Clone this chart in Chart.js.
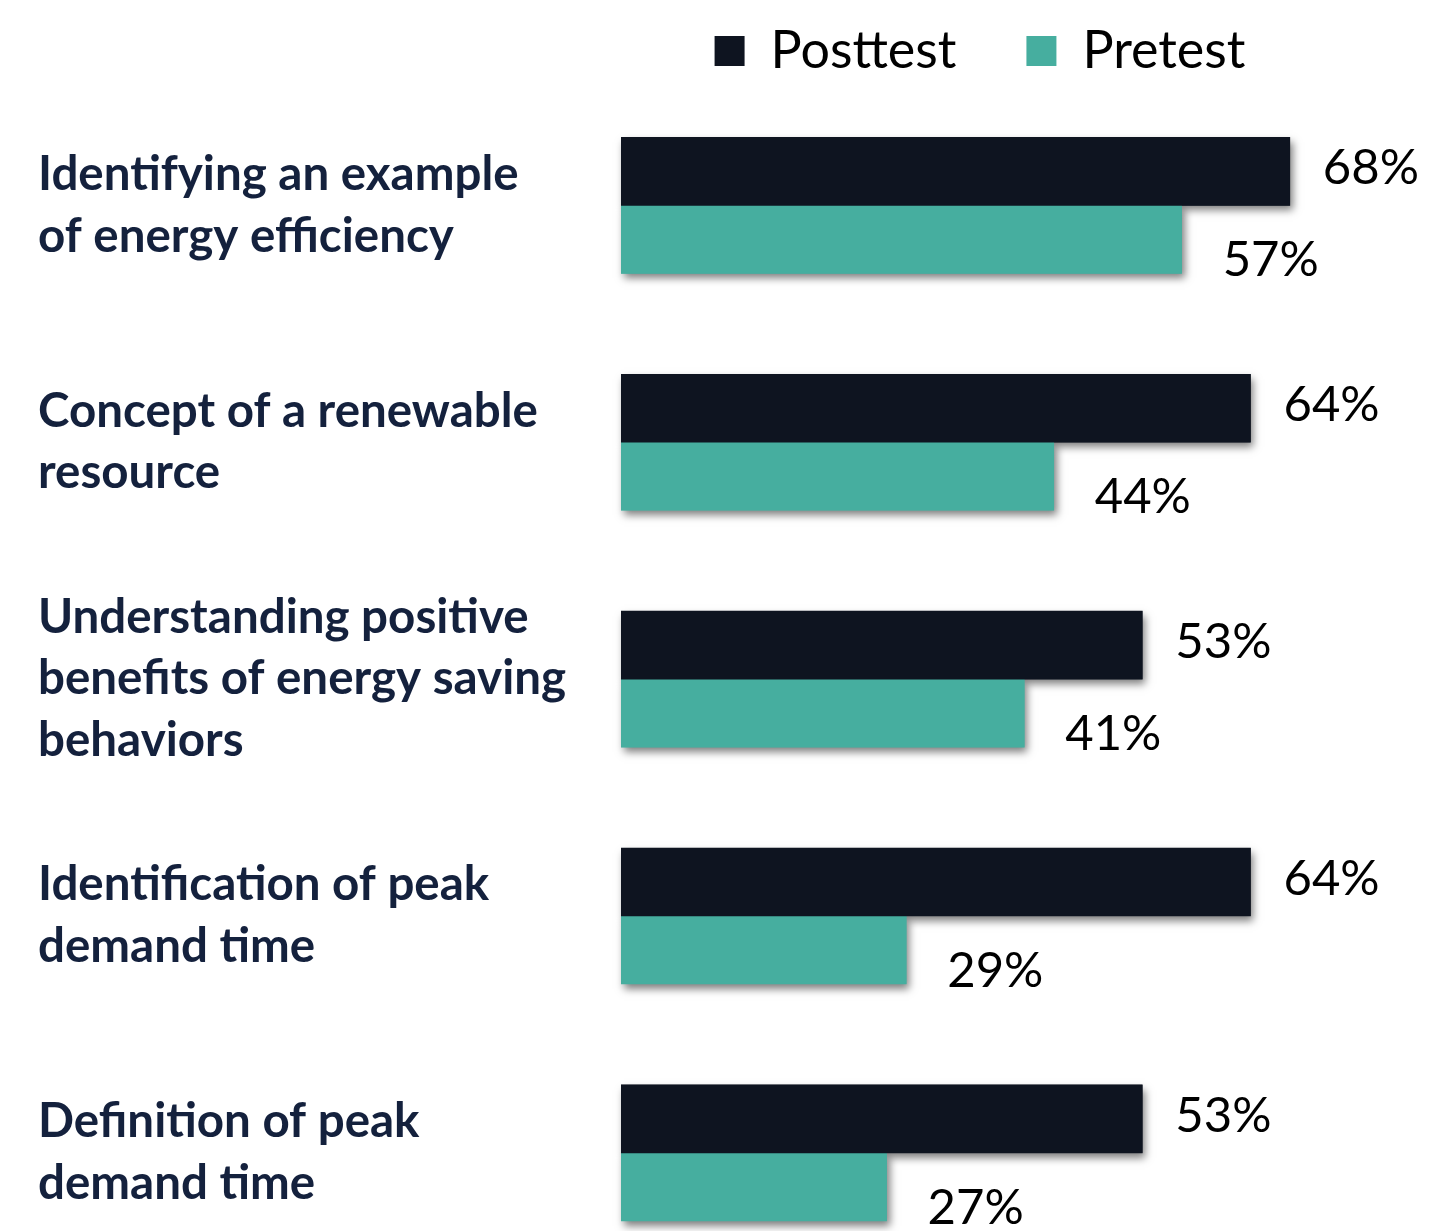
<!DOCTYPE html>
<html lang="en">
  <head>
    <meta charset="UTF-8" />
    <meta name="viewport" content="width=device-width, initial-scale=1.0" />
    <title>Posttest vs Pretest</title>
    <script src="https://cdn.jsdelivr.net/npm/chart.js"></script>
    <style>
      body {
        margin: 0;
        background: #fff;
        overflow: hidden;
      }

      .chart-container {
        position: relative;
        width: 1432px;
        height: 1333px;
      }
    </style>
  </head>
  <body>
    <div class="chart-container">
      <canvas id="barChart"></canvas>
    </div>

    <script>
      const categories = [
        ["Identifying an example", "of energy efficiency"],
        ["Concept of a renewable", "resource"],
        ["Understanding positive", "benefits of energy saving", "behaviors"],
        ["Identification of peak", "demand time"],
        ["Definition of peak", "demand time"],
      ];
      const posttest = [68, 64, 53, 64, 53];
      const pretest = [57, 44, 41, 29, 27];
      const seriesNames = ["Posttest", "Pretest"];
      const seriesColors = ["#0e1420", "#46ae9f"];

      // soft drop shadow under the bars
      const barShadow = {
        id: "barShadow",
        beforeDatasetsDraw(chart) {
          const ctx = chart.ctx;
          ctx.save();
          ctx.shadowColor = "rgba(0, 0, 0, 0.5)";
          ctx.shadowBlur = 8;
          ctx.shadowOffsetX = 3;
          ctx.shadowOffsetY = 5;
          chart.data.datasets.forEach((ds, i) => {
            chart.getDatasetMeta(i).data.forEach((bar) => {
              const p = bar.getProps(["x", "y", "base", "height"], true);
              ctx.fillStyle = ds.backgroundColor;
              ctx.fillRect(p.base, p.y - p.height / 2, p.x - p.base, p.height);
            });
          });
          ctx.restore();
        },
      };

      // percentage labels at the end of each bar
      const valueLabels = {
        id: "valueLabels",
        afterDatasetsDraw(chart) {
          const ctx = chart.ctx;
          const shift = [
            { dx: 33, dy: -3 },
            { dx: 41, dy: 21 },
          ];
          ctx.save();
          ctx.font = "49px Lato";
          ctx.fillStyle = "#000";
          ctx.textBaseline = "middle";
          ctx.textAlign = "left";
          chart.data.datasets.forEach((ds, i) => {
            chart.getDatasetMeta(i).data.forEach((bar, j) => {
              ctx.fillText(ds.data[j] + "%", bar.x + shift[i].dx, bar.y + shift[i].dy);
            });
          });
          ctx.restore();
        },
      };

      const ctx = document.getElementById("barChart").getContext("2d");

      new Chart(ctx, {
        type: "bar",
        data: {
          labels: categories,
          datasets: [
            {
              label: seriesNames[0],
              data: posttest,
              backgroundColor: seriesColors[0],
              barThickness: 68,
              borderWidth: 0,
            },
            {
              label: seriesNames[1],
              data: pretest,
              backgroundColor: seriesColors[1],
              barThickness: 68,
              borderWidth: 0,
            },
          ],
        },
        options: {
          indexAxis: "y",
          responsive: true,
          maintainAspectRatio: false,
          animation: false,
          layout: {
            padding: { top: -45, left: 38, right: 93, bottom: 0 },
          },
          plugins: {
            legend: {
              position: "top",
              fullSize: false,
              labels: {
                boxWidth: 30,
                boxHeight: 30,
                padding: 70,
                color: "#000",
                font: { family: "Lato", size: 52 },
              },
            },
            tooltip: { enabled: false },
          },
          scales: {
            x: {
              display: false,
              min: 0,
              max: 73,
            },
            y: {
              grid: { display: false },
              border: { display: false },
              afterFit(axis) {
                axis.width = 583;
              },
              ticks: {
                crossAlign: "far",
                padding: 0,
                color: "#14213d",
                font: { family: "Lato", size: 47.5, weight: "bold", lineHeight: 1.3 },
              },
            },
          },
        },
        plugins: [barShadow, valueLabels],
      });
    </script>
  </body>
</html>
